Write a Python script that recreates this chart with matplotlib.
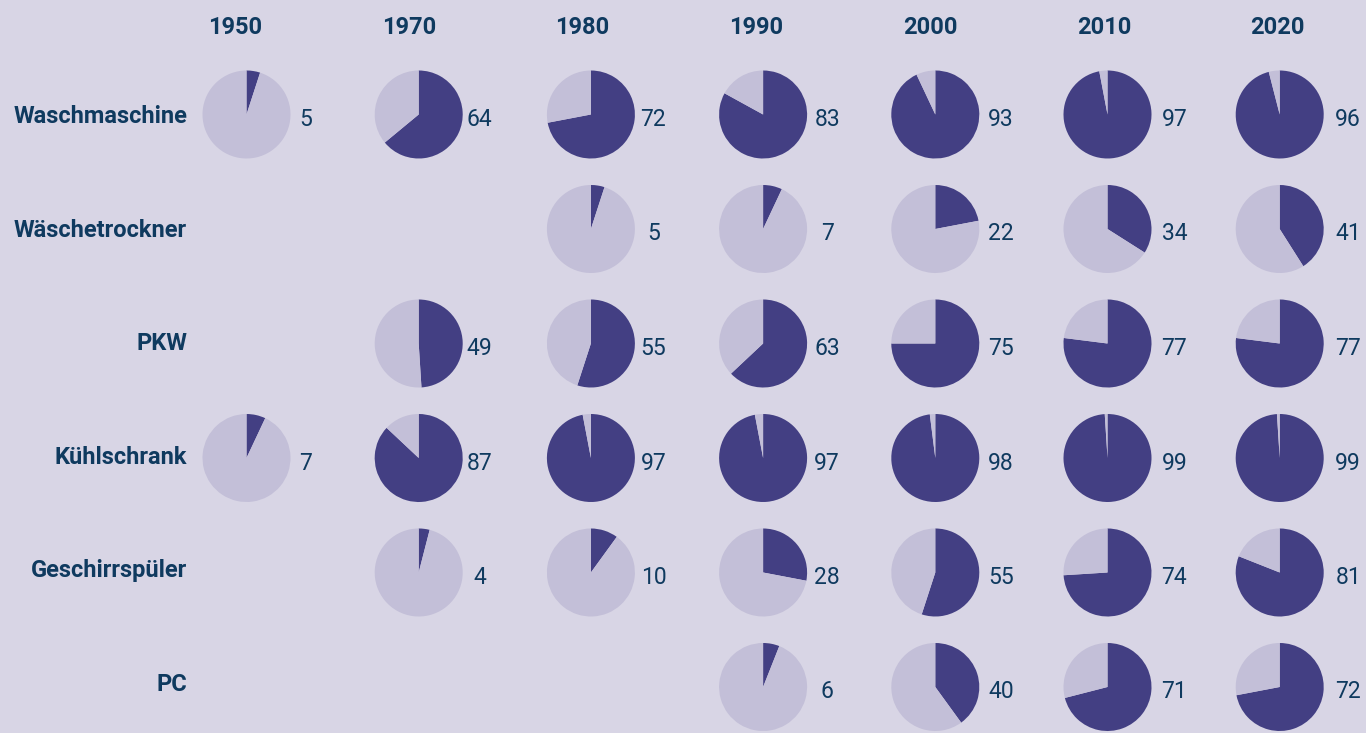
import numpy as np
import matplotlib
matplotlib.use('Agg')
import matplotlib.pyplot as plt

# Ausstattungsgrad privater Haushalte in %
jahre = ['1950', '1970', '1980', '1990', '2000', '2010', '2020']
geraete = ['Waschmaschine', 'Wäschetrockner', 'PKW', 'Kühlschrank', 'Geschirrspüler', 'PC']

waschmaschine = [5, 64, 72, 83, 93, 97, 96]
waeschetrockner = [None, None, 5, 7, 22, 34, 41]
pkw = [None, 49, 55, 63, 75, 77, 77]
kuehlschrank = [7, 87, 97, 97, 98, 99, 99]
geschirrspueler = [None, 4, 10, 28, 55, 74, 81]
pc = [None, None, None, 6, 40, 71, 72]

werte = [waschmaschine, waeschetrockner, pkw, kuehlschrank, geschirrspueler, pc]

bg = '#d8d5e5'
dunkel = '#433f83'
hell = '#c3bfd8'
textfarbe = '#0f3a5f'

plt.rcParams['font.family'] = ['Roboto', 'DejaVu Sans']

W, H = 1366, 733
fig = plt.figure(figsize=(W / 100, H / 100), dpi=100, facecolor=bg)
ax = fig.add_axes([0, 0, 1, 1])
ax.set_facecolor(bg)
ax.axis('off')

# layout in pixeln (von oben gemessen)
x0, dx = 246.5, 172.2
y0, dy = 114.5, 114.5
r = 44

for j, jahr in enumerate(jahre):
    ax.text(235 + 173.8 * j, H - 34, jahr, ha='center', va='baseline',
            fontsize=17, fontweight='bold', color=textfarbe)

for i, name in enumerate(geraete):
    yc = H - (y0 + dy * i)
    ax.text(187, H - (123.3 + 113.5 * i), name, ha='right', va='baseline',
            fontsize=17, fontweight='bold', color=textfarbe)
    for j, v in enumerate(werte[i]):
        if v is None:
            continue
        xc = x0 + dx * j
        ax.pie([v, 100 - v], colors=[dunkel, hell], startangle=90, counterclock=False,
               center=(xc, yc), radius=r, wedgeprops=dict(linewidth=0),
               normalize=True)
        ax.text(306 + 173.7 * j, yc - 11.5, str(v), ha='center', va='baseline',
                fontsize=16.5, color=textfarbe)

ax.set_xlim(0, W)
ax.set_ylim(0, H)
ax.set_aspect('auto')
fig.savefig('out.png', dpi=100, facecolor=bg)
